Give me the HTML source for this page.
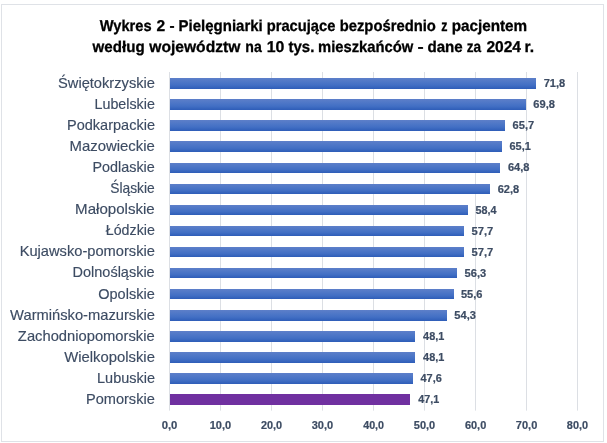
<!DOCTYPE html>
<html><head><meta charset="utf-8"><style>
html,body{margin:0;padding:0;background:#fff;}
body{width:607px;height:443px;overflow:hidden;}
svg{display:block;will-change:transform;}
text{font-family:"Liberation Sans",sans-serif;}
</style></head><body>
<svg width="607" height="443" viewBox="0 0 607 443">
<defs>
<linearGradient id="gb" x1="0" y1="0" x2="0" y2="1">
<stop offset="0" stop-color="#5d7fc9"/>
<stop offset="0.35" stop-color="#4e77c7"/>
<stop offset="0.65" stop-color="#426fc4"/>
<stop offset="1" stop-color="#2e5db8"/>
</linearGradient>
<linearGradient id="gp" x1="0" y1="0" x2="0" y2="1">
<stop offset="0" stop-color="#7030a0"/>
<stop offset="1" stop-color="#7030a0"/>
</linearGradient>
</defs>
<rect x="0" y="0" width="607" height="443" fill="#fff"/>
<rect x="1.5" y="4.5" width="602" height="437" fill="none" stroke="#dfe2e7" stroke-width="1"/>
<text x="99.74" y="30.9" font-size="15.6" font-weight="bold" fill="#000" stroke="#000" stroke-width="0.3" text-rendering="geometricPrecision" textLength="51.82" lengthAdjust="spacingAndGlyphs">Wykres</text>
<text x="156.49" y="30.9" font-size="15.6" font-weight="bold" fill="#000" stroke="#000" stroke-width="0.3" text-rendering="geometricPrecision" textLength="8.66" lengthAdjust="spacingAndGlyphs">2</text>
<text x="169.45" y="30.9" font-size="15.6" font-weight="bold" fill="#000" stroke="#000" stroke-width="0.3" text-rendering="geometricPrecision" textLength="5.09" lengthAdjust="spacingAndGlyphs">-</text>
<text x="178.59" y="30.9" font-size="15.6" font-weight="bold" fill="#000" stroke="#000" stroke-width="0.3" text-rendering="geometricPrecision" textLength="84.15" lengthAdjust="spacingAndGlyphs">Pielęgniarki</text>
<text x="266.74" y="30.9" font-size="15.6" font-weight="bold" fill="#000" stroke="#000" stroke-width="0.3" text-rendering="geometricPrecision" textLength="68.62" lengthAdjust="spacingAndGlyphs">pracujące</text>
<text x="339.70" y="30.9" font-size="15.6" font-weight="bold" fill="#000" stroke="#000" stroke-width="0.3" text-rendering="geometricPrecision" textLength="96.21" lengthAdjust="spacingAndGlyphs">bezpośrednio</text>
<text x="441.27" y="30.9" font-size="15.6" font-weight="bold" fill="#000" stroke="#000" stroke-width="0.3" text-rendering="geometricPrecision" textLength="6.22" lengthAdjust="spacingAndGlyphs">z</text>
<text x="451.67" y="30.9" font-size="15.6" font-weight="bold" fill="#000" stroke="#000" stroke-width="0.3" text-rendering="geometricPrecision" textLength="75.55" lengthAdjust="spacingAndGlyphs">pacjentem</text>
<text x="92.62" y="51.8" font-size="15.6" font-weight="bold" fill="#000" stroke="#000" stroke-width="0.3" text-rendering="geometricPrecision" textLength="52.01" lengthAdjust="spacingAndGlyphs">według</text>
<text x="149.26" y="51.8" font-size="15.6" font-weight="bold" fill="#000" stroke="#000" stroke-width="0.3" text-rendering="geometricPrecision" textLength="91.10" lengthAdjust="spacingAndGlyphs">województw</text>
<text x="245.37" y="51.8" font-size="15.6" font-weight="bold" fill="#000" stroke="#000" stroke-width="0.3" text-rendering="geometricPrecision" textLength="16.45" lengthAdjust="spacingAndGlyphs">na</text>
<text x="266.71" y="51.8" font-size="15.6" font-weight="bold" fill="#000" stroke="#000" stroke-width="0.3" text-rendering="geometricPrecision" textLength="17.64" lengthAdjust="spacingAndGlyphs">10</text>
<text x="288.55" y="51.8" font-size="15.6" font-weight="bold" fill="#000" stroke="#000" stroke-width="0.3" text-rendering="geometricPrecision" textLength="25.78" lengthAdjust="spacingAndGlyphs">tys.</text>
<text x="318.12" y="51.8" font-size="15.6" font-weight="bold" fill="#000" stroke="#000" stroke-width="0.3" text-rendering="geometricPrecision" textLength="95.13" lengthAdjust="spacingAndGlyphs">mieszkańców</text>
<text x="417.56" y="51.8" font-size="15.6" font-weight="bold" fill="#000" stroke="#000" stroke-width="0.3" text-rendering="geometricPrecision" textLength="6.17" lengthAdjust="spacingAndGlyphs">-</text>
<text x="427.41" y="51.8" font-size="15.6" font-weight="bold" fill="#000" stroke="#000" stroke-width="0.3" text-rendering="geometricPrecision" textLength="35.26" lengthAdjust="spacingAndGlyphs">dane</text>
<text x="466.72" y="51.8" font-size="15.6" font-weight="bold" fill="#000" stroke="#000" stroke-width="0.3" text-rendering="geometricPrecision" textLength="14.36" lengthAdjust="spacingAndGlyphs">za</text>
<text x="486.39" y="51.8" font-size="15.6" font-weight="bold" fill="#000" stroke="#000" stroke-width="0.3" text-rendering="geometricPrecision" textLength="34.65" lengthAdjust="spacingAndGlyphs">2024</text>
<text x="524.60" y="51.8" font-size="15.6" font-weight="bold" fill="#000" stroke="#000" stroke-width="0.3" text-rendering="geometricPrecision" textLength="9.60" lengthAdjust="spacingAndGlyphs">r.</text>
<line x1="169.50" y1="72" x2="169.50" y2="410.6" stroke="#dcdfe4" stroke-width="1"/>
<line x1="220.50" y1="72" x2="220.50" y2="410.6" stroke="#dcdfe4" stroke-width="1"/>
<line x1="271.50" y1="72" x2="271.50" y2="410.6" stroke="#dcdfe4" stroke-width="1"/>
<line x1="322.50" y1="72" x2="322.50" y2="410.6" stroke="#dcdfe4" stroke-width="1"/>
<line x1="373.50" y1="72" x2="373.50" y2="410.6" stroke="#dcdfe4" stroke-width="1"/>
<line x1="424.50" y1="72" x2="424.50" y2="410.6" stroke="#dcdfe4" stroke-width="1"/>
<line x1="475.50" y1="72" x2="475.50" y2="410.6" stroke="#dcdfe4" stroke-width="1"/>
<line x1="526.50" y1="72" x2="526.50" y2="410.6" stroke="#dcdfe4" stroke-width="1"/>
<line x1="577.50" y1="72" x2="577.50" y2="410.6" stroke="#dcdfe4" stroke-width="1"/>
<rect x="170" y="78" width="366" height="11" fill="url(#gb)" shape-rendering="crispEdges"/>
<text x="58.04" y="87.80" font-size="14.2" fill="#3d4c63" stroke="#3d4c63" stroke-width="0.15" textLength="96.94" lengthAdjust="spacingAndGlyphs">Świętokrzyskie</text>
<text x="543.63" y="87.20" font-size="11.3" font-weight="bold" fill="#3d4c63" stroke="#3d4c63" stroke-width="0.2" textLength="21.60" lengthAdjust="spacingAndGlyphs">71,8</text>
<rect x="170" y="99" width="356" height="11" fill="url(#gb)" shape-rendering="crispEdges"/>
<text x="94.52" y="108.87" font-size="14.2" fill="#3d4c63" stroke="#3d4c63" stroke-width="0.15" textLength="60.35" lengthAdjust="spacingAndGlyphs">Lubelskie</text>
<text x="533.37" y="108.27" font-size="11.3" font-weight="bold" fill="#3d4c63" stroke="#3d4c63" stroke-width="0.2" textLength="21.64" lengthAdjust="spacingAndGlyphs">69,8</text>
<rect x="170" y="120" width="335" height="11" fill="url(#gb)" shape-rendering="crispEdges"/>
<text x="67.05" y="129.94" font-size="14.2" fill="#3d4c63" stroke="#3d4c63" stroke-width="0.15" textLength="87.91" lengthAdjust="spacingAndGlyphs">Podkarpackie</text>
<text x="512.62" y="129.34" font-size="11.3" font-weight="bold" fill="#3d4c63" stroke="#3d4c63" stroke-width="0.2" textLength="21.60" lengthAdjust="spacingAndGlyphs">65,7</text>
<rect x="170" y="141" width="332" height="11" fill="url(#gb)" shape-rendering="crispEdges"/>
<text x="69.51" y="151.01" font-size="14.2" fill="#3d4c63" stroke="#3d4c63" stroke-width="0.15" textLength="85.24" lengthAdjust="spacingAndGlyphs">Mazowieckie</text>
<text x="509.53" y="150.41" font-size="11.3" font-weight="bold" fill="#3d4c63" stroke="#3d4c63" stroke-width="0.2" textLength="21.36" lengthAdjust="spacingAndGlyphs">65,1</text>
<rect x="170" y="163" width="330" height="10" fill="url(#gb)" shape-rendering="crispEdges"/>
<text x="92.48" y="172.08" font-size="14.2" fill="#3d4c63" stroke="#3d4c63" stroke-width="0.15" textLength="62.33" lengthAdjust="spacingAndGlyphs">Podlaskie</text>
<text x="507.91" y="171.48" font-size="11.3" font-weight="bold" fill="#3d4c63" stroke="#3d4c63" stroke-width="0.2" textLength="21.59" lengthAdjust="spacingAndGlyphs">64,8</text>
<rect x="170" y="184" width="320" height="10" fill="url(#gb)" shape-rendering="crispEdges"/>
<text x="110.23" y="193.15" font-size="14.2" fill="#3d4c63" stroke="#3d4c63" stroke-width="0.15" textLength="44.42" lengthAdjust="spacingAndGlyphs">Śląskie</text>
<text x="497.70" y="192.55" font-size="11.3" font-weight="bold" fill="#3d4c63" stroke="#3d4c63" stroke-width="0.2" textLength="21.53" lengthAdjust="spacingAndGlyphs">62,8</text>
<rect x="170" y="205" width="298" height="10" fill="url(#gb)" shape-rendering="crispEdges"/>
<text x="75.09" y="214.22" font-size="14.2" fill="#3d4c63" stroke="#3d4c63" stroke-width="0.15" textLength="79.65" lengthAdjust="spacingAndGlyphs">Małopolskie</text>
<text x="475.46" y="213.62" font-size="11.3" font-weight="bold" fill="#3d4c63" stroke="#3d4c63" stroke-width="0.2" textLength="20.98" lengthAdjust="spacingAndGlyphs">58,4</text>
<rect x="170" y="226" width="294" height="10" fill="url(#gb)" shape-rendering="crispEdges"/>
<text x="105.78" y="235.29" font-size="14.2" fill="#3d4c63" stroke="#3d4c63" stroke-width="0.15" textLength="49.11" lengthAdjust="spacingAndGlyphs">Łódzkie</text>
<text x="471.55" y="234.69" font-size="11.3" font-weight="bold" fill="#3d4c63" stroke="#3d4c63" stroke-width="0.2" textLength="21.81" lengthAdjust="spacingAndGlyphs">57,7</text>
<rect x="170" y="247" width="294" height="10" fill="url(#gb)" shape-rendering="crispEdges"/>
<text x="19.67" y="256.36" font-size="14.2" fill="#3d4c63" stroke="#3d4c63" stroke-width="0.15" textLength="135.26" lengthAdjust="spacingAndGlyphs">Kujawsko-pomorskie</text>
<text x="471.55" y="255.76" font-size="11.3" font-weight="bold" fill="#3d4c63" stroke="#3d4c63" stroke-width="0.2" textLength="21.81" lengthAdjust="spacingAndGlyphs">57,7</text>
<rect x="170" y="268" width="287" height="10" fill="url(#gb)" shape-rendering="crispEdges"/>
<text x="72.56" y="277.43" font-size="14.2" fill="#3d4c63" stroke="#3d4c63" stroke-width="0.15" textLength="82.13" lengthAdjust="spacingAndGlyphs">Dolnośląskie</text>
<text x="464.56" y="276.83" font-size="11.3" font-weight="bold" fill="#3d4c63" stroke="#3d4c63" stroke-width="0.2" textLength="21.59" lengthAdjust="spacingAndGlyphs">56,3</text>
<rect x="170" y="289" width="284" height="10" fill="url(#gb)" shape-rendering="crispEdges"/>
<text x="98.27" y="298.50" font-size="14.2" fill="#3d4c63" stroke="#3d4c63" stroke-width="0.15" textLength="56.44" lengthAdjust="spacingAndGlyphs">Opolskie</text>
<text x="460.96" y="297.90" font-size="11.3" font-weight="bold" fill="#3d4c63" stroke="#3d4c63" stroke-width="0.2" textLength="21.53" lengthAdjust="spacingAndGlyphs">55,6</text>
<rect x="170" y="310" width="277" height="11" fill="url(#gb)" shape-rendering="crispEdges"/>
<text x="10.14" y="319.57" font-size="14.2" fill="#3d4c63" stroke="#3d4c63" stroke-width="0.15" textLength="144.86" lengthAdjust="spacingAndGlyphs">Warmińsko-mazurskie</text>
<text x="454.36" y="318.97" font-size="11.3" font-weight="bold" fill="#3d4c63" stroke="#3d4c63" stroke-width="0.2" textLength="21.55" lengthAdjust="spacingAndGlyphs">54,3</text>
<rect x="170" y="331" width="245" height="11" fill="url(#gb)" shape-rendering="crispEdges"/>
<text x="17.89" y="340.64" font-size="14.2" fill="#3d4c63" stroke="#3d4c63" stroke-width="0.15" textLength="136.82" lengthAdjust="spacingAndGlyphs">Zachodniopomorskie</text>
<text x="423.10" y="340.04" font-size="11.3" font-weight="bold" fill="#3d4c63" stroke="#3d4c63" stroke-width="0.2" textLength="21.22" lengthAdjust="spacingAndGlyphs">48,1</text>
<rect x="170" y="352" width="245" height="11" fill="url(#gb)" shape-rendering="crispEdges"/>
<text x="64.17" y="361.71" font-size="14.2" fill="#3d4c63" stroke="#3d4c63" stroke-width="0.15" textLength="90.73" lengthAdjust="spacingAndGlyphs">Wielkopolskie</text>
<text x="423.10" y="361.11" font-size="11.3" font-weight="bold" fill="#3d4c63" stroke="#3d4c63" stroke-width="0.2" textLength="21.22" lengthAdjust="spacingAndGlyphs">48,1</text>
<rect x="170" y="373" width="243" height="11" fill="url(#gb)" shape-rendering="crispEdges"/>
<text x="97.05" y="382.78" font-size="14.2" fill="#3d4c63" stroke="#3d4c63" stroke-width="0.15" textLength="57.93" lengthAdjust="spacingAndGlyphs">Lubuskie</text>
<text x="420.54" y="382.18" font-size="11.3" font-weight="bold" fill="#3d4c63" stroke="#3d4c63" stroke-width="0.2" textLength="21.30" lengthAdjust="spacingAndGlyphs">47,6</text>
<rect x="170" y="394" width="240" height="11" fill="url(#gp)" shape-rendering="crispEdges"/>
<text x="85.99" y="403.85" font-size="14.2" fill="#3d4c63" stroke="#3d4c63" stroke-width="0.15" textLength="68.77" lengthAdjust="spacingAndGlyphs">Pomorskie</text>
<text x="418.20" y="403.25" font-size="11.3" font-weight="bold" fill="#3d4c63" stroke="#3d4c63" stroke-width="0.2" textLength="20.99" lengthAdjust="spacingAndGlyphs">47,1</text>
<text x="161.65" y="428.9" font-size="11.3" font-weight="bold" fill="#3d4c63" stroke="#3d4c63" stroke-width="0.2" textLength="15.73" lengthAdjust="spacingAndGlyphs">0,0</text>
<text x="209.67" y="428.9" font-size="11.3" font-weight="bold" fill="#3d4c63" stroke="#3d4c63" stroke-width="0.2" textLength="21.49" lengthAdjust="spacingAndGlyphs">10,0</text>
<text x="260.91" y="428.9" font-size="11.3" font-weight="bold" fill="#3d4c63" stroke="#3d4c63" stroke-width="0.2" textLength="21.22" lengthAdjust="spacingAndGlyphs">20,0</text>
<text x="311.73" y="428.9" font-size="11.3" font-weight="bold" fill="#3d4c63" stroke="#3d4c63" stroke-width="0.2" textLength="21.48" lengthAdjust="spacingAndGlyphs">30,0</text>
<text x="363.16" y="428.9" font-size="11.3" font-weight="bold" fill="#3d4c63" stroke="#3d4c63" stroke-width="0.2" textLength="20.91" lengthAdjust="spacingAndGlyphs">40,0</text>
<text x="413.85" y="428.9" font-size="11.3" font-weight="bold" fill="#3d4c63" stroke="#3d4c63" stroke-width="0.2" textLength="21.39" lengthAdjust="spacingAndGlyphs">50,0</text>
<text x="464.92" y="428.9" font-size="11.3" font-weight="bold" fill="#3d4c63" stroke="#3d4c63" stroke-width="0.2" textLength="21.35" lengthAdjust="spacingAndGlyphs">60,0</text>
<text x="515.82" y="428.9" font-size="11.3" font-weight="bold" fill="#3d4c63" stroke="#3d4c63" stroke-width="0.2" textLength="21.47" lengthAdjust="spacingAndGlyphs">70,0</text>
<text x="566.87" y="428.9" font-size="11.3" font-weight="bold" fill="#3d4c63" stroke="#3d4c63" stroke-width="0.2" textLength="21.25" lengthAdjust="spacingAndGlyphs">80,0</text>
</svg></body></html>
